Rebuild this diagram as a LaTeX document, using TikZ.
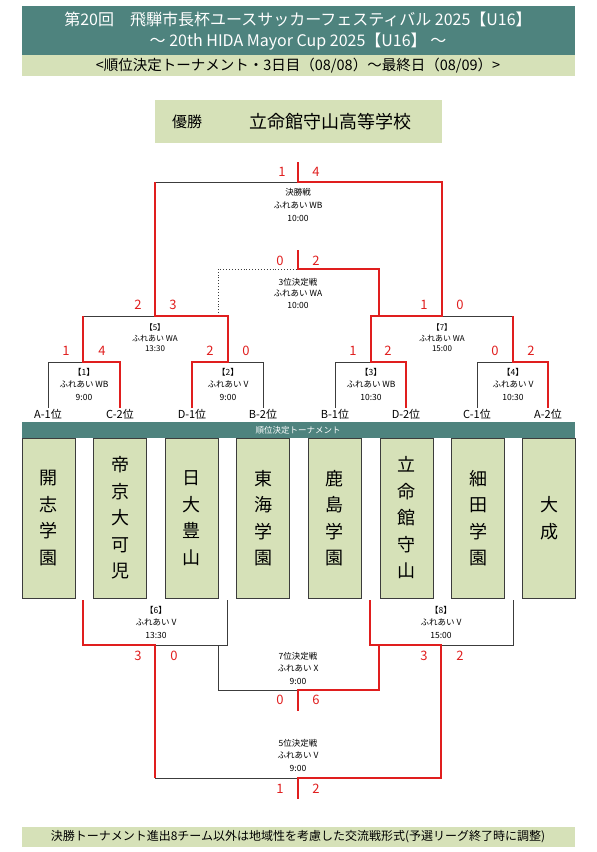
\documentclass[tikz,border=0pt]{standalone}
\usepackage{fontspec}
\setmainfont{Noto Sans CJK JP}
\definecolor{hdteal}{HTML}{4E837E}
\definecolor{sage}{HTML}{D6E1B8}
\definecolor{winred}{HTML}{E01E1E}
\definecolor{linegray}{HTML}{3C3C3C}
\begin{document}
\begin{tikzpicture}[x=1pt, y=-1pt,
    win/.style={draw=winred, line width=2.3pt, line join=miter},
    lose/.style={draw=linegray, line width=0.8pt},
    dotline/.style={draw=linegray, line width=0.9pt, dotted},
    score/.style={text=winred, font=\fontsize{13}{13}\selectfont},
    slot/.style={font=\fontsize{11}{11}\selectfont},
    info/.style={font=\fontsize{8.5}{12.5}\selectfont, align=center},
    teambox/.style={draw=linegray, fill=sage, line width=0.6pt, minimum width=53pt,
        minimum height=160pt, inner sep=0pt, align=center,
        font=\fontsize{18}{26.5}\selectfont}]
\useasboundingbox (0,0) rectangle (597,852);

% 1. Header bands
\fill[hdteal] (22,6) rectangle (575,55);
\fill[sage] (22,55) rectangle (575,76);
\node[text=white, font=\fontsize{16}{16}\selectfont] (title) at (298,19) {第20回　飛騨市長杯ユースサッカーフェスティバル 2025【U16】};
\node[text=white, font=\fontsize{16}{16}\selectfont] (subtitle) at (298,42) {～ 20th HIDA Mayor Cup 2025【U16】 ～};
\node[font=\fontsize{14.5}{14.5}\selectfont] (round) at (298,66) {<順位決定トーナメント・3日目（08/08）～最終日（08/09）>};

% 2. Champion
\fill[sage] (155,100) rectangle (442,143);
\node[font=\fontsize{15}{15}\selectfont] (champ) at (187,122) {優勝};
\node[font=\fontsize{18}{18}\selectfont] (champname) at (330,122) {立命館守山高等学校};

% 3. Upper bracket: black (lost) lines
\draw[lose] (48,408) -- (48,362) -- (83,362);
\draw[lose] (263,408) -- (263,362) -- (228,362);
\draw[lose] (335,408) -- (335,362) -- (371,362);
\draw[lose] (477,408) -- (477,362) -- (513,362);
\draw[lose] (83,316) -- (155,316);
\draw[lose] (442,316) -- (513,316);
\draw[lose] (155,182) -- (298,182);
\draw[dotline] (218,316) -- (218,269) -- (298,269);

% 4. Upper bracket: red (won) lines
\draw[win] (120,408) -- (120,362) -- (83,362) -- (83,316);
\draw[win] (192,408) -- (192,362) -- (228,362) -- (228,316) -- (155,316) -- (155,182);
\draw[win] (406,408) -- (406,362) -- (371,362) -- (371,316) -- (442,316) -- (442,182) -- (298,182) -- (298,162);
\draw[win] (548,408) -- (548,362) -- (513,362) -- (513,316);
\draw[win] (379,316) -- (379,269) -- (298,269) -- (298,250);

% 5. Match info
\node[info, font=\fontsize{8.5}{13}\selectfont] (final) at (298,205) {決勝戦\\ふれあい WB\\10:00};
\node[info, font=\fontsize{8.5}{11.5}\selectfont] (third) at (298,293) {3位決定戦\\ふれあい WA\\10:00};
\node[info, font=\fontsize{8}{10.5}\selectfont] (m5) at (155,338) {【5】\\ふれあい WA\\13:30};
\node[info, font=\fontsize{8}{10.5}\selectfont] (m7) at (442,338) {【7】\\ふれあい WA\\15:00};
\node[info] (m1) at (84,384) {【1】\\ふれあい WB\\9:00};
\node[info] (m2) at (228,384) {【2】\\ふれあい V\\9:00};
\node[info] (m3) at (371,384) {【3】\\ふれあい WB\\10:30};
\node[info] (m4) at (513,384) {【4】\\ふれあい V\\10:30};

% 6. Scores
\foreach \n/\px/\py/\v in {fa/282/172/1, fb/316/172/4, ta/280/261/0, tb/316/261/2,
    m5a/138/305/2, m5b/173/305/3, m7a/424/305/1, m7b/460/305/0,
    m1a/66/351/1, m1b/102/351/4, m2a/210/351/2, m2b/246/351/0,
    m3a/353/351/1, m3b/388/351/2, m4a/495/351/0, m4b/531/351/2,
    m6a/138/656/3, m6b/174/656/0, m8a/424/656/3, m8b/460/656/2,
    sva/280/700/0, svb/316/700/6, fia/280/789/1, fib/316/789/2}
    \node[score] (sc-\n) at (\px,\py) {\v};

% 7. Slots
\foreach \k/\px/\lbl in {1/48/A-1位, 2/120/C-2位, 3/192/D-1位, 4/263/B-2位,
    5/335/B-1位, 6/406/D-2位, 7/477/C-1位, 8/548/A-2位}
    \node[slot] (slot\k) at (\px,414) {\lbl};

% 8. Band and team boxes
\fill[hdteal] (22,422) rectangle (575,438);
\node[text=white, font=\fontsize{8.5}{8.5}\selectfont] (band) at (298,430) {順位決定トーナメント};
\foreach \k/\px/\name in {1/48.5/{開\\志\\学\\園}, 2/120/{帝\\京\\大\\可\\児}, 3/191.5/{日\\大\\豊\\山},
    4/263/{東\\海\\学\\園}, 5/334.5/{鹿\\島\\学\\園}, 6/406.5/{立\\命\\館\\守\\山},
    7/478/{細\\田\\学\\園}, 8/549/{大\\成}}
    \node[teambox] (team\k) at (\px,518) {\name};

% 9. Lower bracket
\draw[lose] (155,645) -- (227,645) -- (227,600);
\draw[lose] (441,645) -- (513,645) -- (513,600);
\draw[lose] (218,645) -- (218,690) -- (298,690);
\draw[lose] (155,778) -- (298,778);
\draw[win] (83,600) -- (83,645) -- (155,645) -- (155,778);
\draw[win] (370,600) -- (370,645) -- (441,645) -- (441,778) -- (298,778) -- (298,799);
\draw[win] (379,645) -- (379,690) -- (298,690) -- (298,711);

\node[info] (m6) at (156,622) {【6】\\ふれあい V\\13:30};
\node[info] (m8) at (441,622) {【8】\\ふれあい V\\15:00};
\node[info] (seventh) at (298,668) {7位決定戦\\ふれあい X\\9:00};
\node[info] (fifth) at (298,755) {5位決定戦\\ふれあい V\\9:00};

% 10. Footer
\fill[sage] (22,827) rectangle (575,847);
\node[font=\fontsize{12}{12}\selectfont] (note) at (298,837) {決勝トーナメント進出8チーム以外は地域性を考慮した交流戦形式(予選リーグ終了時に調整)};

\end{tikzpicture}
\end{document}
